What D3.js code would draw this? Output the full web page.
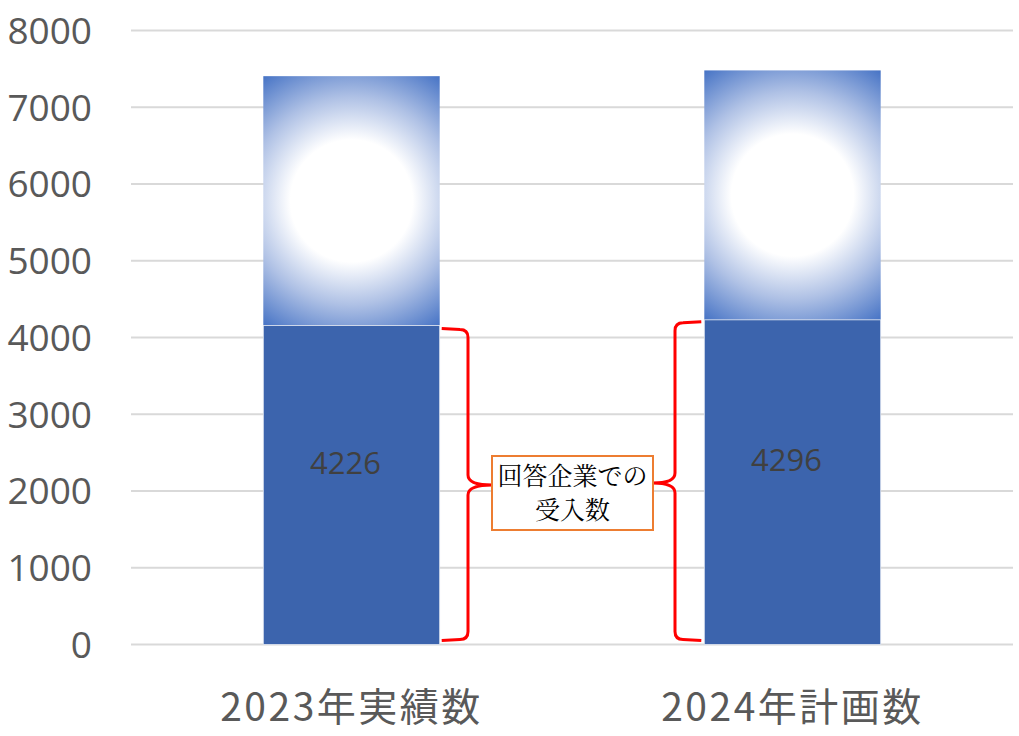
<!DOCTYPE html>
<html>
<head>
<meta charset="utf-8">
<script src="https://cdn.jsdelivr.net/npm/d3@7"></script>
<style>
body { margin: 0; background: white; }
.axis text { font-family: "Open Sans", sans-serif; font-size: 37px; fill: #595959; }
.cat text { font-family: "Noto Sans CJK JP", sans-serif; font-size: 39px; fill: #595959; letter-spacing: 2.5px; }
</style>
</head>
<body>
<script>
const categories = ["2023年実績数", "2024年計画数"];
const baseValues = [4156, 4230];       // dark segment
const totalValues = [7405, 7480];      // top of the gradient segment
const valueLabels = ["4226", "4296"];
const yTicks = [0, 1000, 2000, 3000, 4000, 5000, 6000, 7000, 8000];
const noteLines = ["回答企業での", "受入数"];

const W = 1019, H = 736;
const margin = {top: 30.5, right: 6, bottom: 91.5, left: 131};

const svg = d3.select("body").append("svg")
  .attr("width", W).attr("height", H);

const x = d3.scaleBand().domain(categories)
  .range([margin.left, W - margin.right]).padding(0);
const y = d3.scaleLinear().domain([0, 8000])
  .range([H - margin.bottom, margin.top]);

const barW = x.bandwidth() * 0.4;
const bx = d => x(d) + (x.bandwidth() - barW) / 2;

// gridlines
svg.append("g")
  .selectAll("line").data(yTicks).join("line")
  .attr("x1", margin.left).attr("x2", W - margin.right)
  .attr("y1", d => y(d)).attr("y2", d => y(d))
  .attr("stroke", "#d9d9d9").attr("stroke-width", 2);

// y labels
svg.append("g").attr("class", "axis")
  .selectAll("text").data(yTicks).join("text")
  .attr("x", 92).attr("y", d => y(d))
  .attr("text-anchor", "end").attr("dy", "0.36em")
  .text(d => d);

// gradients
const defs = svg.append("defs");
categories.forEach((c, i) => {
  const top = y(totalValues[i]), bot = y(baseValues[i]);
  const cx = bx(c) + barW / 2, cy = (top + bot) / 2;
  const r = Math.hypot(barW / 2, (bot - top) / 2);
  const g = defs.append("radialGradient").attr("id", "grad" + i)
    .attr("gradientUnits", "userSpaceOnUse")
    .attr("cx", cx).attr("cy", cy).attr("r", r);
  g.append("stop").attr("offset", 0).attr("stop-color", "#ffffff");
  g.append("stop").attr("offset", 0.4).attr("stop-color", "#ffffff");
  g.append("stop").attr("offset", 0.68).attr("stop-color", "#afc1e5");
  g.append("stop").attr("offset", 1).attr("stop-color", "#4673c5");
});

// top segments
svg.append("g").selectAll("rect").data(categories).join("rect")
  .attr("x", d => bx(d)).attr("width", barW)
  .attr("y", (d, i) => y(totalValues[i]))
  .attr("height", (d, i) => y(baseValues[i]) - y(totalValues[i]))
  .attr("fill", (d, i) => `url(#grad${i})`);

// base segments
svg.append("g").selectAll("rect").data(categories).join("rect")
  .attr("x", d => bx(d)).attr("width", barW)
  .attr("y", (d, i) => y(baseValues[i]))
  .attr("height", (d, i) => y(0) - y(baseValues[i]))
  .attr("fill", "#3c64ad")
  .attr("stroke", "#e3e8f2").attr("stroke-width", 0.8);

// value labels
svg.append("g").selectAll("text").data(categories).join("text")
  .attr("x", d => x(d) + x.bandwidth() / 2 - 6)
  .attr("y", (d, i) => y(baseValues[i] * 0.57))
  .attr("dy", "0.36em")
  .attr("text-anchor", "middle")
  .attr("font-family", "Open Sans, sans-serif").attr("font-size", 31)
  .attr("fill", "#404040")
  .text((d, i) => valueLabels[i]);

// category labels
svg.append("g").attr("class", "cat")
  .selectAll("text").data(categories).join("text")
  .attr("x", d => x(d) + x.bandwidth() / 2)
  .attr("y", 721).attr("text-anchor", "middle")
  .text(d => d);

// note box
const box = {x0: 492, x1: 653, y0: 456, y1: 530};
const midY = 485;

// braces
function brace(xEdge, xSpine, xTip, yTop, yBot, yMid) {
  const s = Math.sign(xSpine - xEdge);
  const p = d3.path();
  p.moveTo(xEdge, yTop);
  p.lineTo(xSpine - s * 8, yTop + 1);
  p.quadraticCurveTo(xSpine, yTop + 1, xSpine, yTop + 9);
  p.lineTo(xSpine, yMid - 10);
  p.quadraticCurveTo(xSpine, yMid, xTip, yMid);
  p.quadraticCurveTo(xSpine, yMid, xSpine, yMid + 10);
  p.lineTo(xSpine, yBot - 9);
  p.quadraticCurveTo(xSpine, yBot - 1, xSpine - s * 8, yBot - 1);
  p.lineTo(xEdge, yBot);
  return p.toString();
}
const b0 = bx(categories[0]) + barW, b1 = bx(categories[1]);
svg.append("path")
  .attr("d", brace(b0 + 2, 468, box.x0, y(baseValues[0]) + 3, y(0) - 4, midY))
  .attr("fill", "none").attr("stroke", "#ff0000").attr("stroke-width", 3);
svg.append("path")
  .attr("d", brace(b1 - 3, 675, box.x1, y(baseValues[1]) + 2, y(0) - 4, midY - 2))
  .attr("fill", "none").attr("stroke", "#ff0000").attr("stroke-width", 3);

svg.append("rect")
  .attr("x", box.x0).attr("y", box.y0)
  .attr("width", box.x1 - box.x0).attr("height", box.y1 - box.y0)
  .attr("fill", "white").attr("stroke", "#ed7d31").attr("stroke-width", 2);

svg.append("g").selectAll("text").data(noteLines).join("text")
  .attr("x", (box.x0 + box.x1) / 2)
  .attr("y", (d, i) => 485 + i * 34)
  .attr("text-anchor", "middle")
  .attr("font-family", "Noto Serif CJK JP, serif").attr("font-size", 25)
  .attr("fill", "#000")
  .text(d => d);
</script>
</body>
</html>
